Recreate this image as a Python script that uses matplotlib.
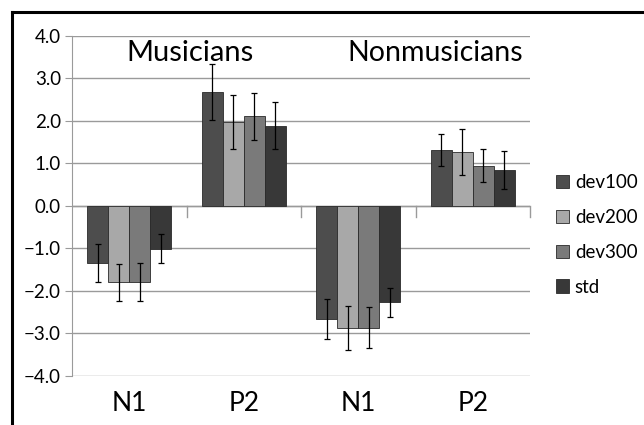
import numpy as np
import matplotlib.pyplot as plt
from matplotlib.lines import Line2D

plt.rcParams['font.family'] = ['Lato', 'DejaVu Sans']

# Datos (amplitudes por condición)
categorias = ["N1", "P2", "N1", "P2"]
series = ["dev100", "dev200", "dev300", "std"]
valores = {
    "dev100": [-1.35, 2.68, -2.66, 1.32],
    "dev200": [-1.80, 1.97, -2.88, 1.27],
    "dev300": [-1.78, 2.11, -2.86, 0.95],
    "std":    [-1.01, 1.89, -2.27, 0.84],
}
errores = {
    "dev100": [0.45, 0.65, 0.46, 0.37],
    "dev200": [0.43, 0.64, 0.52, 0.53],
    "dev300": [0.45, 0.56, 0.48, 0.38],
    "std":    [0.34, 0.55, 0.35, 0.45],
}
grupos = ["Musicians", "Nonmusicians"]
yticks = [-4.0, -3.0, -2.0, -1.0, 0.0, 1.0, 2.0, 3.0, 4.0]

colores = {"dev100": "#4d4d4d", "dev200": "#a8a8a8",
           "dev300": "#7a7a7a", "std": "#383838"}

fig = plt.figure(figsize=(6.44, 4.25), dpi=100)
ax = fig.add_axes([0.1118, 0.1153, 0.7112, 0.80])

x = np.arange(len(categorias))
ancho = 0.183
for i, s in enumerate(series):
    pos = x + (i - 1.5) * ancho
    ax.bar(pos, valores[s], ancho, color=colores[s], edgecolor="#2a2a2a",
           linewidth=0.6, label=s, zorder=3)
    ax.errorbar(pos, valores[s], yerr=errores[s], fmt="none", ecolor="black",
                elinewidth=0.9, capsize=2.5, capthick=0.9, zorder=4)

ax.set_xlim(-0.5, 3.5)
ax.set_ylim(-4, 4)
ax.set_yticks(yticks)
ax.set_yticklabels([f"{v:.1f}".replace("-", "\u2212") for v in yticks], fontsize=13.5)
ax.yaxis.grid(True, color="#9a9a9a", linewidth=1, zorder=0)
ax.set_axisbelow(True)

for lado in ["top", "right", "bottom"]:
    ax.spines[lado].set_visible(False)
ax.spines["left"].set_color("#9a9a9a")
ax.tick_params(axis="y", length=5, color="#9a9a9a", pad=3)

# eje x sobre y = 0 con marcas entre grupos
ax.axhline(0, color="#9a9a9a", linewidth=1, zorder=2)
ax.set_xticks([])
for xb in [0.5, 1.5, 2.5, 3.5]:
    ax.plot([xb, xb], [0, -0.25], color="#9a9a9a", linewidth=1, clip_on=False, zorder=2)
for xc, cat in zip(x, categorias):
    ax.text(xc, -4.65, cat, ha="center", va="center", fontsize=19)

ax.text(0.53, 3.6, grupos[0], ha="center", va="center", fontsize=21)
ax.text(2.67, 3.6, grupos[1], ha="center", va="center", fontsize=20.5)

ax.legend(loc="center left", bbox_to_anchor=(1.02, 0.415), frameon=False,
          fontsize=13.5, handlelength=0.7, handleheight=0.7, handletextpad=0.3,
          labelspacing=0.95)

# marco negro arriba e izquierda
fig.add_artist(Line2D([12 / 644, 1], [1 - 12 / 425, 1 - 12 / 425],
                      color="black", linewidth=2.2))
fig.add_artist(Line2D([12 / 644, 12 / 644], [0, 1 - 12 / 425],
                      color="black", linewidth=2.2))

fig.savefig("out.png", dpi=100, facecolor="white")
